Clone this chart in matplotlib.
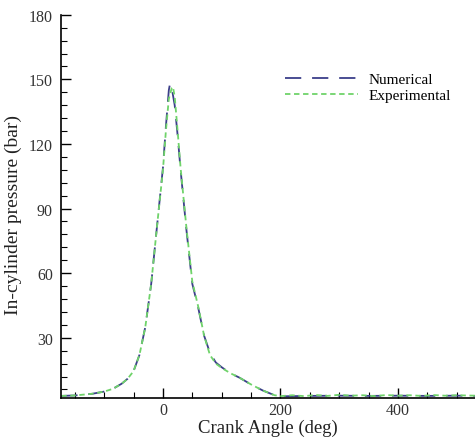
import numpy as np
import matplotlib.pyplot as plt
from matplotlib.ticker import MultipleLocator

# crank angle (deg) and in-cylinder pressure (bar)
num_angle = [-173, -150, -120, -100, -85, -70, -60, -50, -40, -30, -20, -10,
             0, 5, 10, 12, 15, 20, 25, 30, 40, 50, 60, 70, 80, 90, 100, 115,
             130, 150, 170, 190, 200, 250, 300, 350, 400, 450, 500, 531]
num_pressure = [3.0, 3.2, 4.0, 5.0, 6.3, 8.7, 11.0, 14.5, 22.0, 35.0, 55.0, 82.0,
                109.0, 128.0, 145.0, 148.0, 146.0, 138.0, 124.0, 108.0, 80.0, 55.0, 44.0, 31.0,
                23.0, 18.5, 16.3, 13.5, 11.5, 8.3, 5.5, 3.3, 2.8, 3.0, 3.1, 3.0, 3.1, 3.0, 3.1, 3.0]

exp_angle = [-173, -150, -120, -100, -85, -70, -60, -50, -40, -30, -20, -10,
             0, 5, 10, 15, 17, 20, 25, 30, 40, 50, 60, 70, 80, 85, 90, 100, 115,
             130, 150, 170, 190, 200, 220, 240, 260, 280, 300, 320, 340, 360,
             380, 400, 420, 440, 460, 480, 500, 531]
exp_pressure = [3.0, 3.2, 4.0, 5.0, 6.3, 8.7, 11.0, 14.5, 22.0, 35.0, 55.0, 82.0,
                108.0, 126.0, 141.0, 146.0, 146.5, 142.0, 126.0, 109.0, 81.0, 56.0, 44.5, 31.0,
                22.0, 20.0, 18.0, 16.0, 13.5, 11.5, 8.3, 5.5, 3.3, 2.9, 3.3, 2.9, 3.4, 3.0, 3.5,
                3.1, 3.3, 2.9, 3.4, 3.1, 3.3, 3.0, 3.4, 3.1, 3.3, 3.1]

plt.rcParams['font.family'] = ['Liberation Serif', 'DejaVu Serif']

fig = plt.figure(figsize=(4.75, 4.39), dpi=100)
ax = fig.add_axes([0.129, 0.091, 0.871, 0.873])

ax.plot(num_angle, num_pressure, color='#3c3f8a', linewidth=1.3,
        dashes=(9, 6), label='Numerical')
ax.plot(exp_angle, exp_pressure, color='#6fd36a', linewidth=1.3,
        dashes=(3, 2), label='Experimental')

ax.set_xlim(-173, 531)
ax.set_ylim(2, 180)
ax.set_xticks([0, 200, 400])
ax.set_yticks([30, 60, 90, 120, 150, 180])
ax.xaxis.set_minor_locator(MultipleLocator(50))
ax.yaxis.set_minor_locator(MultipleLocator(6))

ax.tick_params(which='major', direction='in', length=7, width=1.0,
               labelsize=11.5, labelcolor='#333333')
ax.tick_params(which='minor', direction='in', length=4, width=0.8)
ax.tick_params(axis='x', which='major', top=False, pad=3)
ax.tick_params(axis='y', which='major', right=False, pad=6)

for side in ['top', 'right']:
    ax.spines[side].set_visible(False)
for side in ['left', 'bottom']:
    ax.spines[side].set_linewidth(1.2)

ax.set_xlabel('Crank Angle (deg)', fontsize=13.5, color='#222222', labelpad=0)
ax.set_ylabel('In-cylinder pressure (bar)', fontsize=14, color='#222222')
ax.yaxis.set_label_coords(-0.095, 0.48)

ax.legend(loc='upper right', bbox_to_anchor=(0.975, 0.885), frameon=False,
          fontsize=11, handlelength=4.8, handletextpad=0.7, labelspacing=0.15)

fig.savefig('out.png', dpi=100)
